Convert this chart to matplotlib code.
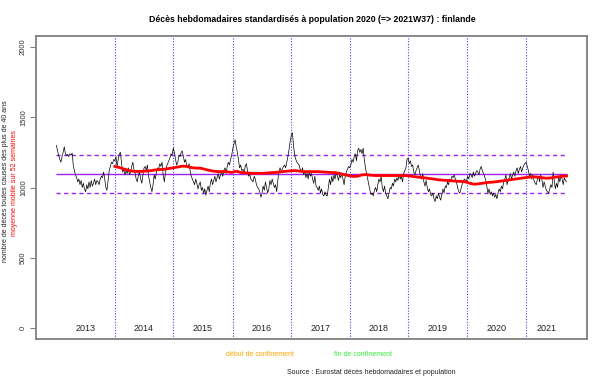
"""
Décès hebdomadaires standardisés - Finlande, 2013W01 -> 2021W37.
Values read off the reference chart.
"""
import matplotlib
matplotlib.use("Agg")
import matplotlib.pyplot as plt
import numpy as np

plt.rcParams["font.family"] = ["Liberation Sans", "DejaVu Sans"]

# weekly standardized deaths, one list per year (ISO weeks)
deaths_2013 = [1300, 1260, 1230, 1200, 1180, 1220, 1250, 1290, 1240, 1230,
               1235, 1220, 1240, 1230, 1245, 1160, 1120, 1090, 1070, 1040,
               1060, 1020, 1050, 1000, 1030, 990, 970, 1020, 990, 1040,
               1000, 1050, 1010, 1030, 1060, 1020, 1050, 1040, 1020, 1060,
               1080, 1070, 1110, 1060, 1000, 980, 1050, 1120, 1150, 1180, 1170, 1200]
deaths_2014 = [1190, 1220, 1150, 1200, 1240, 1250, 1170, 1110, 1130, 1090,
               1120, 1100, 1140, 1090, 1110, 1150, 1180, 1130, 1100, 1060,
               1040, 1090, 1110, 1060, 1030, 1090, 1140, 1150, 1120, 1160,
               1080, 1040, 1000, 970, 1020, 1090, 1060, 1110, 1140, 1130,
               1170, 1150, 1180, 1090, 1040, 1100, 1150, 1170, 1190, 1210, 1240, 1230]
deaths_2015 = [1280, 1250, 1200, 1160, 1180, 1230, 1220, 1250, 1260, 1220,
               1180, 1200, 1150, 1140, 1170, 1120, 1080, 1060, 1040, 1020,
               1060, 1030, 990, 1020, 1040, 980, 1000, 960, 990, 945,
               980, 1010, 970, 1030, 1060, 1020, 1050, 1080, 1040, 1070,
               1100, 1060, 1090, 1110, 1080, 1120, 1140, 1100, 1150, 1180, 1160, 1200, 1230]
deaths_2016 = [1280, 1310, 1340, 1290, 1250, 1200, 1140, 1160, 1120, 1130,
               1100, 1150, 1170, 1120, 1080, 1100, 1060, 1050, 1040, 1080,
               1060, 1020, 1000, 990, 970, 930, 960, 1010, 980, 1040,
               1000, 960, 990, 1050, 1020, 1060, 1030, 1000, 1020, 970,
               1050, 1110, 1140, 1120, 1130, 1150, 1160, 1140, 1180, 1220, 1270, 1330]
deaths_2017 = [1370, 1390, 1300, 1230, 1200, 1180, 1170, 1160, 1130, 1110,
               1140, 1090, 1120, 1070, 1100, 1060, 1120, 1080, 1100, 1060,
               1030, 1080, 1010, 1000, 980, 1010, 960, 990, 950, 940,
               970, 945, 940, 1000, 1060, 1020, 1080, 1040, 1090, 1060,
               1110, 1080, 1050, 1090, 1070, 1100, 1060, 1020, 1080, 1110, 1130, 1150]
deaths_2018 = [1140, 1160, 1200, 1180, 1220, 1240, 1190, 1260, 1280, 1250,
               1270, 1240, 1280, 1200, 1140, 1100, 1060, 1020, 980, 950,
               960, 940, 980, 1000, 970, 1020, 1060, 1040, 1080, 1000,
               970, 1010, 960, 940, 920, 960, 1000, 990, 1030, 1010,
               1060, 1040, 1070, 1050, 1090, 1060, 1080, 1040, 1100, 1120, 1140, 1200]
deaths_2019 = [1210, 1170, 1190, 1150, 1160, 1110, 1090, 1120, 1140, 1160,
               1120, 1080, 1060, 1100, 1040, 1010, 1050, 1000, 970, 990,
               950, 940, 960, 920, 900, 940, 920, 960, 930, 910,
               950, 990, 960, 1010, 1000, 1040, 1020, 1060, 1050, 1080,
               1070, 1090, 1060, 1040, 1000, 970, 960, 990, 1020, 1040, 1060, 1050]
deaths_2020 = [1050, 1080, 1060, 1100, 1090, 1070, 1110, 1080, 1100, 1120,
               1110, 1090, 1130, 1150, 1120, 1100, 1080, 1050, 1010, 960,
               990, 950, 970, 940, 960, 930, 950, 920, 960, 990,
               970, 1010, 990, 1040, 1060, 1090, 1020, 1050, 1070, 1100,
               1060, 1090, 1110, 1080, 1120, 1140, 1100, 1130, 1150, 1110, 1140, 1160, 1170]
deaths_2021 = [1180, 1150, 1120, 1080, 1100, 1060, 1090, 1050, 1030, 1020,
               1060, 1080, 1040, 1090, 1060, 1000, 1040, 1010, 980, 970,
               960, 990, 1020, 1000, 1110, 1050, 990, 1030, 1000, 1080,
               1040, 1090, 1060, 1020, 1070, 1050, 1040]

years = [2013, 2014, 2015, 2016, 2017, 2018, 2019, 2020, 2021]
yearly = [deaths_2013, deaths_2014, deaths_2015, deaths_2016, deaths_2017,
          deaths_2018, deaths_2019, deaths_2020, deaths_2021]

# 52-week moving average, sampled every 4 weeks from 2014W01
ma_weeks = list(range(52, 453, 4)) + [454]
ma_values = [1150, 1142, 1132, 1122, 1116, 1114, 1115, 1117, 1120, 1125,
             1128, 1130, 1135, 1140, 1146, 1152, 1150, 1142, 1138, 1138,
             1130, 1122, 1116, 1113, 1113, 1112, 1107, 1116, 1107, 1104,
             1102, 1101, 1101, 1101, 1104, 1106, 1108, 1112, 1115, 1118,
             1120, 1117, 1113, 1113, 1113, 1113, 1111, 1109, 1107, 1106,
             1100, 1092, 1085, 1079, 1080, 1090, 1092, 1087, 1085, 1085,
             1085, 1085, 1085, 1085, 1085, 1084, 1080, 1076, 1072, 1068,
             1064, 1060, 1055, 1052, 1050, 1047, 1045, 1043, 1040, 1030,
             1023, 1027, 1031, 1036, 1038, 1042, 1046, 1050, 1055, 1060,
             1064, 1069, 1073, 1076, 1074, 1070, 1066, 1068, 1074, 1078,
             1081, 1082]

ref_mean = 1095
ref_high = 1232
ref_low = 960

weekly = np.concatenate([np.array(y, dtype=float) for y in yearly])
weeks = np.arange(len(weekly))
year_len = np.array([len(y) for y in yearly])
year_start = np.concatenate([[0], np.cumsum(year_len)[:-1]])

fig = plt.figure(figsize=(6.05, 3.84), dpi=100)
ax = fig.add_axes([36 / 605, 1 - 339.3 / 384, 551 / 605, 303.6 / 384])

n = len(weekly) - 1
ax.set_xlim(-0.04 * n, n * 1.04)
ax.set_ylim(-80, 2080)

for ys in year_start[1:]:
    ax.axvline(ys, color="#4444ff", lw=0.8, ls=(0, (1, 1.5)))

ax.hlines(ref_mean, 0, n, color="#a020f0", lw=1.0)
ax.hlines([ref_high, ref_low], 0, n, color="#a020f0", lw=1.0, ls=(0, (3, 2.5)))

ax.plot(weeks, weekly, color="black", lw=0.5)
ax.plot(ma_weeks, ma_values, color="red", lw=2.0)

for y, s, ln in zip(years, year_start, year_len):
    ax.text(s + ln / 2, 0, str(y), ha="center", va="center", fontsize=6.5, color="#222222")

ax.set_xticks([])
ax.set_yticks([0, 500, 1000, 1500, 2000])
ax.set_yticklabels(["0", "500", "1000", "1500", "2000"], rotation=90, va="center",
                   fontsize=5.5, color="#333333")
ax.tick_params(axis="y", length=4, width=0.8, color="#808080", pad=2.5)
for sp in ax.spines.values():
    sp.set_color("#808080")
    sp.set_linewidth(1.3)

fig.text(312 / 605, 1 - 19 / 384,
         "Décès hebdomadaires standardisés à population 2020 (=> 2021W37) : finlande",
         ha="center", va="center", fontsize=6.3, fontweight="bold")
fig.text(6 / 605, 1 - 181 / 384, "nombre de décès toutes causes des plus de 40 ans",
         rotation=90, ha="center", va="center", fontsize=5, color="#222222")
fig.text(15 / 605, 1 - 183 / 384, "moyenne mobile sur 52 semaines",
         rotation=90, ha="center", va="center", fontsize=5, color="red")
fig.text(260 / 605, 1 - 354 / 384, "début de confinement",
         ha="center", va="center", fontsize=5, color="orange")
fig.text(363 / 605, 1 - 354 / 384, "fin de confinement",
         ha="center", va="center", fontsize=5, color="#33ee33")
fig.text(371 / 605, 1 - 372 / 384, "Source : Eurostat décès hebdomadaires et population",
         ha="center", va="center", fontsize=5, color="#222222")

fig.savefig("out.png", dpi=100)
